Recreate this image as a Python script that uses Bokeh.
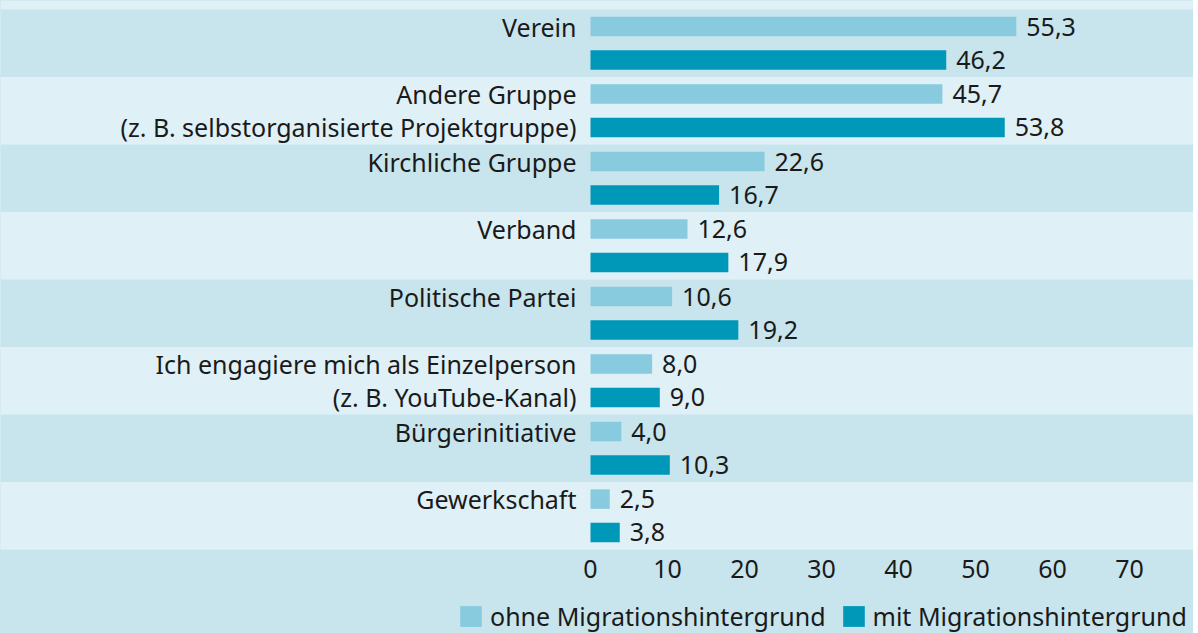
from bokeh.plotting import figure
from bokeh.models import ColumnDataSource, FixedTicker, Legend, LegendItem
from bokeh.layouts import column
from bokeh.core.properties import value
from bokeh.embed import file_html
from bokeh.resources import INLINE

# ---- data ----
categories_line1 = ["Verein", "Andere Gruppe", "Kirchliche Gruppe", "Verband",
                    "Politische Partei", "Ich engagiere mich als Einzelperson",
                    "Bürgerinitiative", "Gewerkschaft"]
categories_line2 = ["", "(z. B. selbstorganisierte Projektgruppe)", "", "", "",
                    "(z. B. YouTube-Kanal)", "", ""]
ohne = [55.3, 45.7, 22.6, 12.6, 10.6, 8.0, 4.0, 2.5]
mit = [46.2, 53.8, 16.7, 17.9, 19.2, 9.0, 10.3, 3.8]
ticks = [0, 10, 20, 30, 40, 50, 60, 70]
series_names = ["ohne Migrationshintergrund", "mit Migrationshintergrund"]

C_LIGHT_BAR = "#88cbdf"
C_DARK_BAR = "#0098b9"
C_BAND_DARK = "#c8e5ed"
C_BAND_LIGHT = "#dff0f7"
FONT = "Noto Sans"
FS = "25px"
TXT = "#1a1a1a"

n = len(categories_line1)
W = 1193
H1 = 590
H2 = 43
px = 7.7
x0 = -590 / px
x1 = x0 + W / px
band_px = 67.5
top_extra = 9 / band_px

p = figure(width=W, height=H1, x_range=(x0, x1), y_range=(0, n + top_extra),
           output_backend="svg", toolbar_location=None,
           min_border_left=0, min_border_right=0, min_border_top=0, min_border_bottom=H1 - 549)
p.border_fill_color = C_BAND_DARK
p.background_fill_color = C_BAND_LIGHT
p.outline_line_color = None
p.grid.visible = False
p.yaxis.visible = False

# bands
tops = [n - i for i in range(n)]
bottoms = [n - i - 1 for i in range(n)]
band_cols = [C_BAND_DARK if i % 2 == 0 else C_BAND_LIGHT for i in range(n)]
p.quad(left=x0, right=x1, top=tops, bottom=bottoms, fill_color=band_cols, line_color=None)

centers = [n - i - 0.5 for i in range(n)]
off = 0.247
h = 0.289
y_ohne = [c + off for c in centers]
y_mit = [c - off for c in centers]

src_o = ColumnDataSource(dict(y=y_ohne, v=ohne, lab=[f"{v:.1f}".replace(".", ",") for v in ohne]))
src_m = ColumnDataSource(dict(y=y_mit, v=mit, lab=[f"{v:.1f}".replace(".", ",") for v in mit]))

p.hbar(y="y", left=0, right="v", height=h, source=src_o, fill_color=C_LIGHT_BAR, line_color=None)
p.hbar(y="y", left=0, right="v", height=h, source=src_m, fill_color=C_DARK_BAR, line_color=None)

for src in (src_o, src_m):
    p.text(x="v", y="y", text="lab", source=src, x_offset=10, text_align="left",
           text_baseline="middle", text_font=value(FONT), text_font_size=FS, text_color=TXT)

lab_x = -14 / px
p.text(x=[lab_x] * n, y=y_ohne, text=categories_line1, text_align="right", text_baseline="middle",
       text_font=value(FONT), text_font_size=FS, text_color=TXT)
p.text(x=[lab_x] * n, y=y_mit, text=categories_line2, text_align="right", text_baseline="middle",
       text_font=value(FONT), text_font_size=FS, text_color=TXT)

ax = p.xaxis[0]
ax.ticker = FixedTicker(ticks=ticks)
ax.axis_line_color = None
ax.major_tick_line_color = None
ax.minor_tick_line_color = None
ax.major_label_text_align = "left"
ax.major_label_text_font = FONT
ax.major_label_text_font_size = FS
ax.major_label_text_color = TXT
ax.major_label_standoff = 4

# legend strip (zero-size proxy bars carry the legend swatches)
q = figure(width=W, height=H2, x_range=(0, 1), y_range=(0, 1), output_backend="svg",
           toolbar_location=None, min_border=0)
q.axis.visible = False
q.grid.visible = False
q.outline_line_color = None
q.background_fill_color = C_BAND_DARK
q.border_fill_color = C_BAND_DARK
e1 = q.hbar(y=[0], left=[0], right=[0], height=0, fill_color=C_LIGHT_BAR, line_color=None)
e2 = q.hbar(y=[0], left=[0], right=[0], height=0, fill_color=C_DARK_BAR, line_color=None)

legend = Legend(items=[LegendItem(label=series_names[0], renderers=[e1]),
                       LegendItem(label=series_names[1], renderers=[e2])],
                orientation="horizontal", location=(457, 0))
legend.label_text_font = FONT
legend.label_text_font_size = FS
legend.label_text_color = TXT
legend.glyph_width = 27
legend.glyph_height = 26
legend.label_standoff = 6
legend.spacing = 14
legend.padding = 0
legend.margin = 0
legend.background_fill_alpha = 0
legend.border_line_alpha = 0
q.add_layout(legend)

layout = column(p, q, spacing=0, styles={"background-color": C_BAND_DARK})
open("out.html", "w").write(file_html(layout, INLINE))
